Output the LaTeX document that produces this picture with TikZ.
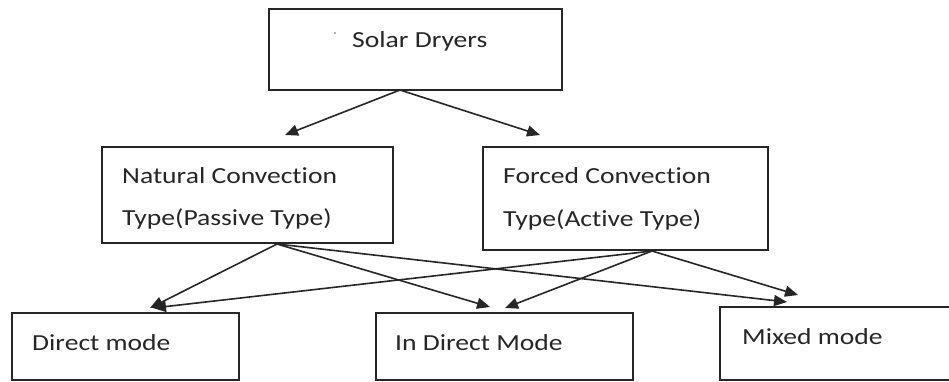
\documentclass[tikz,border=0pt]{standalone}
\usepackage{fontspec}
\setmainfont{Carlito}[FakeStretch=1.2,Ligatures=NoCommon]
\usetikzlibrary{arrows.meta}
\begin{document}
\begin{tikzpicture}[x=1pt,y=-1pt,
  box/.style={draw=black!85, line width=1.6pt, rectangle, inner sep=0pt},
  lbl/.style={anchor=base west, inner sep=0pt, font=\fontsize{23}{27}\selectfont, text=black!85},
  arr/.style={draw=black!85, line width=1.6pt, -{Triangle[length=13pt,width=11pt]}}]
\useasboundingbox (0,0) rectangle (949,381);
% boxes
\node[box, minimum width=293pt, minimum height=81pt] (solar) at (415.5,49.5) {};
\node[box, minimum width=291pt, minimum height=96pt] (natural) at (247.5,195) {};
\node[box, minimum width=285pt, minimum height=103pt] (forced) at (625.5,198.5) {};
\node[box, minimum width=227pt, minimum height=67pt] (direct) at (125.5,346.5) {};
\node[box, minimum width=257pt, minimum height=67pt] (indirect) at (504.5,346.5) {};
\node[box, minimum width=240pt, minimum height=73pt] (mixed) at (840,343.5) {};
% texts
\node[lbl] (tsolar) at (352,47.5) {Solar Dryers};
\fill[black!60] (335,33) circle (0.8pt);
\node[lbl] (tnat1) at (122,183.5) {Natural Convection};
\node[lbl] (tnat2) at (122,225) {Type(Passive Type)};
\node[lbl] (tfor1) at (503,183.5) {Forced Convection};
\node[lbl] (tfor2) at (503,226.5) {Type(Active Type)};
\node[lbl] (tdir) at (32,350) {Direct mode};
\node[lbl] (tind) at (395,350) {In Direct Mode};
\node[lbl] (tmix) at (742,344) {Mixed mode};
% connector points
\coordinate (sS) at (400,90);
\coordinate (nT) at (285,135);
\coordinate (fT) at (540,135);
\coordinate (nS) at (277,244);
\coordinate (fS) at (652,251);
\coordinate (dT1) at (150,308);
\coordinate (dT2) at (153,308);
\coordinate (iT1) at (490,307);
\coordinate (iT2) at (505,308);
\coordinate (mT1) at (787,302);
\coordinate (mT2) at (798,295);
% connectors
\draw[arr] (sS) -- (nT);
\draw[arr] (sS) -- (fT);
\draw[arr] (nS) -- (dT1);
\draw[arr] (nS) -- (iT1);
\draw[arr] (nS) -- (mT1);
\draw[arr] (fS) -- (dT2);
\draw[arr] (fS) -- (iT2);
\draw[arr] (fS) -- (mT2);
\end{tikzpicture}
\end{document}
